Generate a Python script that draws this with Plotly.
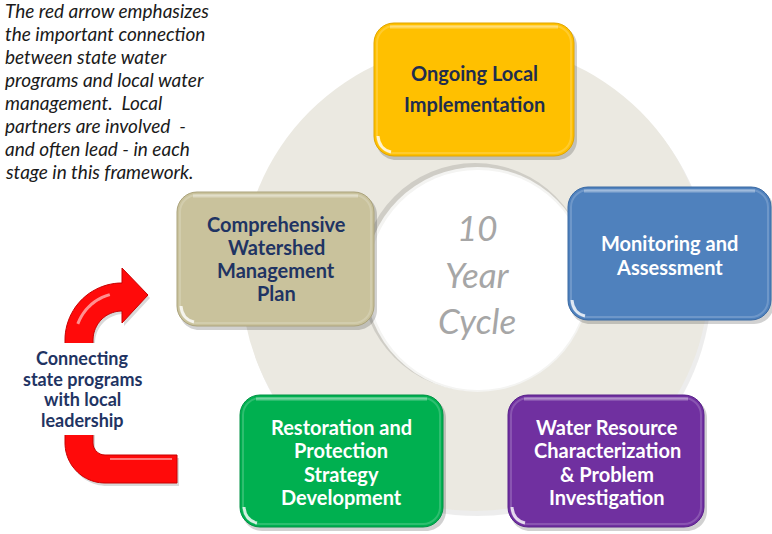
import numpy as np
import plotly.graph_objects as go

# ---- content ------------------------------------------------------------
stage_labels = [
    ["Ongoing Local", "Implementation"],
    ["Monitoring and", "Assessment"],
    ["Water Resource", "Characterization", "& Problem", "Investigation"],
    ["Restoration and", "Protection", "Strategy", "Development"],
    ["Comprehensive", "Watershed", "Management", "Plan"],
]
stage_colors = ["#FFC000", "#4F81BD", "#7030A0", "#00B050", "#C9C29C"]
stage_edges = ["#E0A500", "#3B6AA3", "#58208A", "#009244", "#ABA37C"]
stage_text_colors = ["#1F2D4E", "#FFFFFF", "#FFFFFF", "#FFFFFF", "#1F3463"]

cycle_label = ["10", "Year", "Cycle"]
arrow_label = ["Connecting", "state programs", "with local", "leadership"]
note_lines = [
    "The red arrow emphasizes",
    "the important connection",
    "between state water",
    "programs and local water",
    "management.  Local",
    "partners are involved  -",
    "and often lead - in each",
    "stage in this framework.",
]

# ---- layout geometry (pixels, y downwards) -------------------------------
W, H = 772, 534
CX, CY, R_OUT, R_IN = 475, 277, 234, 114
boxes = [(374, 23, 574, 156), (568, 187, 771, 320), (508, 395, 704, 527),
         (240, 395, 443, 527), (177, 192, 374, 326)]
text_pos = [(474, 88.5, 31), (669, 255, 24), (607, 462, 23.3),
            (341, 462, 23.3), (276, 258.5, 23)]

FONT = "Lato"


def rrect(x0, y0, x1, y1, r):
    k = 0.552 * r
    return (f"M{x0 + r},{y0} L{x1 - r},{y0} C{x1 - r + k},{y0} {x1},{y0 + r - k} {x1},{y0 + r} "
            f"L{x1},{y1 - r} C{x1},{y1 - r + k} {x1 - r + k},{y1} {x1 - r},{y1} "
            f"L{x0 + r},{y1} C{x0 + r - k},{y1} {x0},{y1 - r + k} {x0},{y1 - r} "
            f"L{x0},{y0 + r} C{x0},{y0 + r - k} {x0 + r - k},{y0} {x0 + r},{y0} Z")


def arc(cx, cy, r, a0, a1, n=24):
    t = np.radians(np.linspace(a0, a1, n))
    return list(zip(cx + r * np.cos(t), cy + r * np.sin(t)))


def poly(pts):
    return "M" + " L".join(f"{x:.1f},{y:.1f}" for x, y in pts) + " Z"


shapes = []

# ring with soft shadow
shapes.append(dict(type="circle", x0=CX - R_OUT + 2, y0=CY - R_OUT + 4, x1=CX + R_OUT + 3,
                   y1=CY + R_OUT + 5, fillcolor="rgba(0,0,0,0.07)", line_width=0))
shapes.append(dict(type="circle", x0=CX - R_OUT, y0=CY - R_OUT, x1=CX + R_OUT, y1=CY + R_OUT,
                   fillcolor="#EBE9E1", line_width=0))
shapes.append(dict(type="circle", x0=CX - R_IN, y0=CY - R_IN, x1=CX + R_IN, y1=CY + R_IN,
                   fillcolor="#CFCDC6", line_width=0))
shapes.append(dict(type="circle", x0=CX - R_IN + 4, y0=CY - R_IN + 4, x1=CX + R_IN + 1,
                   y1=CY + R_IN + 1, fillcolor="#F4F4F2", line_width=0))
shapes.append(dict(type="circle", x0=CX - R_IN + 7, y0=CY - R_IN + 7, x1=CX + R_IN - 1,
                   y1=CY + R_IN - 1, fillcolor="#FFFFFF", line_width=0))

# stage boxes
for (x0, y0, x1, y1), fc, ec in zip(boxes, stage_colors, stage_edges):
    shapes.append(dict(type="path", path=rrect(x0 + 2, y0 + 3, x1 + 3, y1 + 4, 20),
                       fillcolor="rgba(0,0,0,0.18)", line_width=0))
    shapes.append(dict(type="path", path=rrect(x0, y0, x1, y1, 20),
                       fillcolor=fc, line=dict(color=ec, width=1)))
    shapes.append(dict(type="path", path=rrect(x0 + 3, y0 + 3, x1 - 3, y1 - 3, 17),
                       fillcolor="rgba(0,0,0,0)", line=dict(color="rgba(255,255,255,0.18)", width=2)))
    shapes.append(dict(type="path", path=f"M{x0 + 16},{y0 + 4} L{x1 - 16},{y0 + 4}",
                       line=dict(color="rgba(255,255,255,0.35)", width=3)))
    shapes.append(dict(type="path", path=f"M{x0 + 4},{y1 - 20} Q{x0 + 5},{y1 - 7} {x0 + 17},{y1 - 4}",
                       line=dict(color="rgba(255,255,255,0.8)", width=3)))

# red arrow
pts = [(148, 295), (122, 323), (122, 311)]
pts += arc(122, 340, 29, -90, -180)
pts += arc(105, 443, 12, 180, 90, 10)
pts += [(177, 455), (177, 483)]
pts += arc(105, 443, 40, 90, 180)
pts += arc(122, 340, 57, 180, 270)
pts += [(122, 268)]
shapes.append(dict(type="path", path=poly([(x + 2, y + 3) for x, y in pts]),
                   fillcolor="rgba(0,0,0,0.15)", line_width=0))
shapes.append(dict(type="path", path=poly(pts), fillcolor="#FF0A0A",
                   line=dict(color="#C80000", width=1)))
hl = arc(122, 340, 47, 200, 255, 12)
shapes.append(dict(type="path", path="M" + " L".join(f"{x:.1f},{y:.1f}" for x, y in hl),
                   line=dict(color="rgba(255,255,255,0.55)", width=3)))
shapes.append(dict(type="path", path="M110,459 L172,459",
                   line=dict(color="rgba(255,255,255,0.45)", width=2)))
# white panel behind the arrow caption
shapes.append(dict(type="rect", x0=40, y0=343, x1=125, y1=435, fillcolor="#FFFFFF", line_width=0))

annotations = []
for lines, (tx, ty, gap), tc in zip(stage_labels, text_pos, stage_text_colors):
    n = len(lines)
    for i, s in enumerate(lines):
        annotations.append(dict(x=tx, y=ty + (i - (n - 1) / 2) * gap, text=f"<b>{s}</b>",
                                showarrow=False, xanchor="center", yanchor="middle",
                                font=dict(family=FONT, size=20, color=tc)))

for i, s in enumerate(cycle_label):
    annotations.append(dict(x=477, y=227 + i * 46.5, text=f"<i>{s}</i>", showarrow=False,
                            xanchor="center", yanchor="middle",
                            font=dict(family=FONT, size=35, color="#A6A6A6")))

for i, s in enumerate(arrow_label):
    annotations.append(dict(x=82, y=358 + i * 20.7, text=f"<b>{s}</b>", showarrow=False,
                            xanchor="center", yanchor="middle",
                            font=dict(family=FONT, size=18, color="#1F3463")))

for i, s in enumerate(note_lines):
    annotations.append(dict(x=3, y=10 + i * 23, text=f"<i>{s}</i>", showarrow=False,
                            xanchor="left", yanchor="middle",
                            font=dict(family=FONT, size=19, color="#1A1A1A")))

fig = go.Figure()
fig.update_layout(
    width=W,
    height=H,
    autosize=False,
    margin=dict(l=0, r=0, t=0, b=0),
    paper_bgcolor="white",
    plot_bgcolor="white",
    showlegend=False,
    xaxis=dict(range=[0, W], visible=False, fixedrange=True),
    yaxis=dict(range=[H, 0], visible=False, fixedrange=True),
    shapes=shapes,
    annotations=annotations,
)
fig.write_html("out.html", config={"displayModeBar": False},
               post_script="document.body.style.margin='0';")
